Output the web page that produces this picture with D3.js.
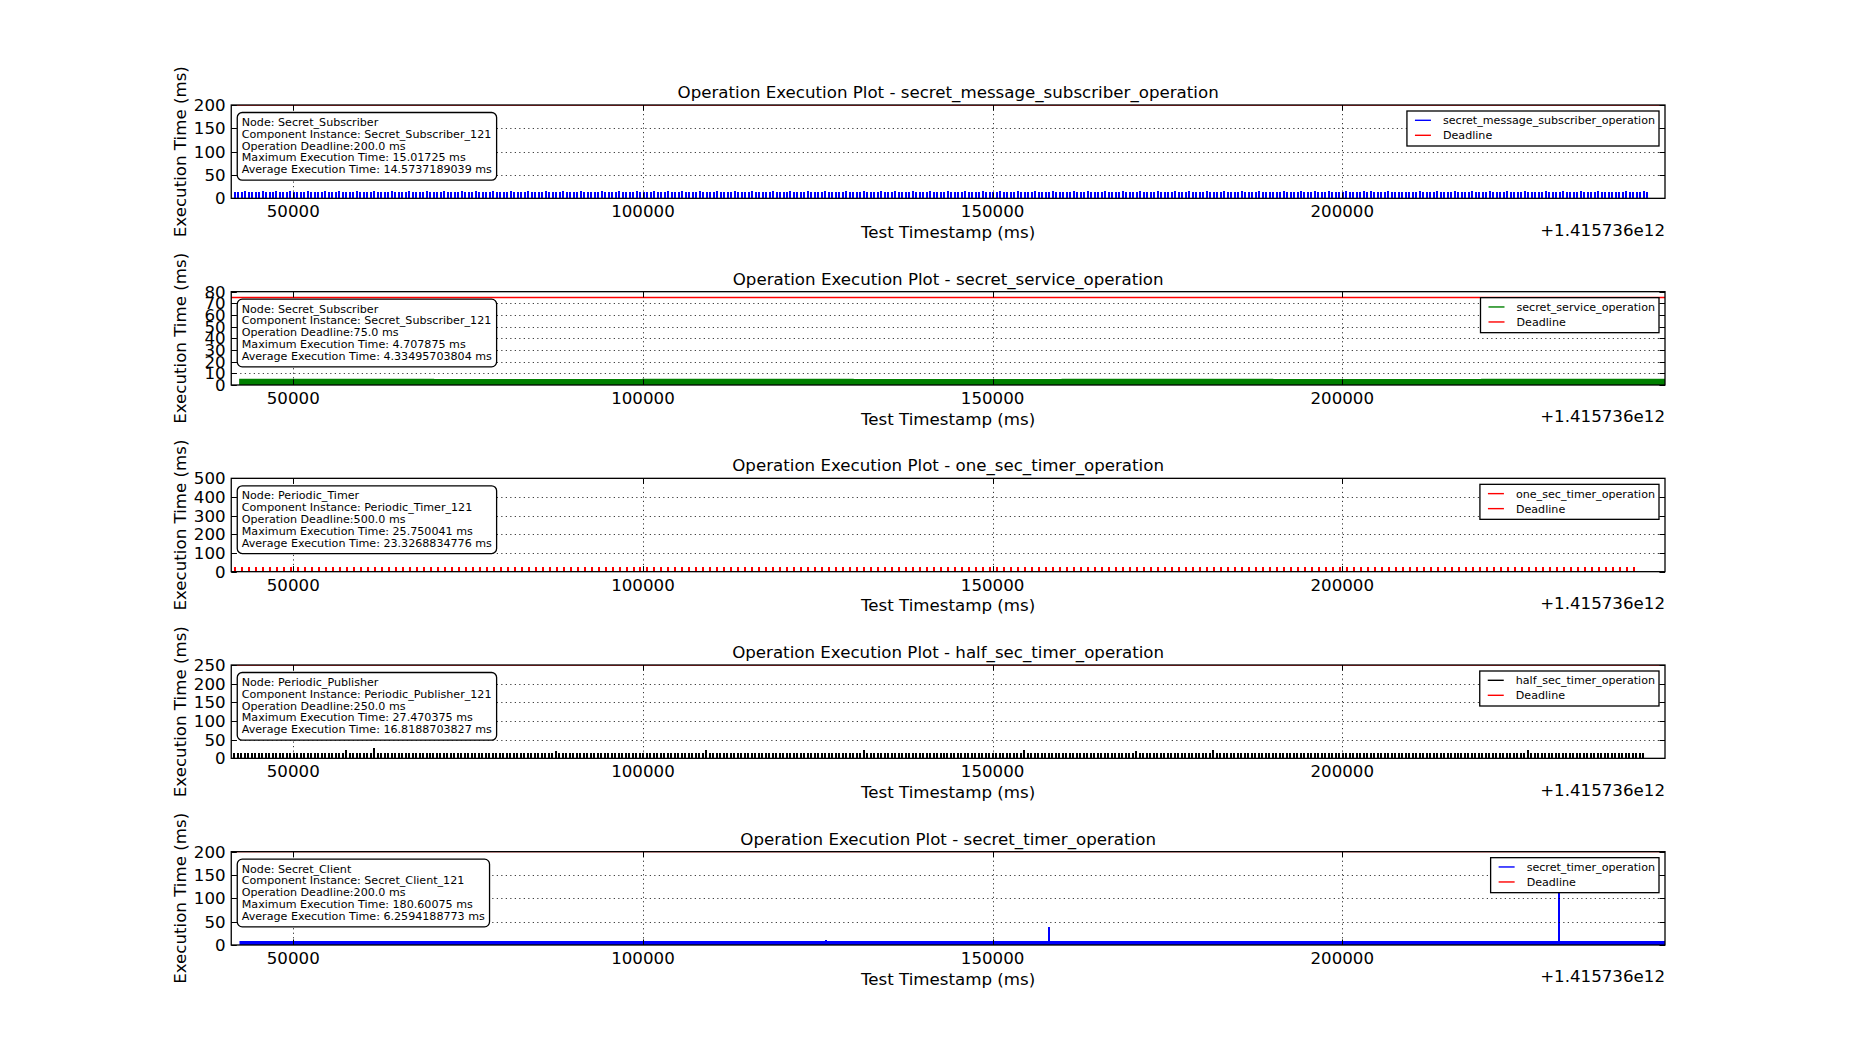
<!DOCTYPE html>
<html><head><meta charset="utf-8">
<script src="https://cdn.jsdelivr.net/npm/d3@7"></script>
<style>html,body{margin:0;padding:0;background:#fff;} svg{display:block;font-family:"DejaVu Sans",sans-serif;}</style>
</head><body><svg id="chart" width="1850" height="1050"></svg>
<script>
// ---------------- DATA ----------------
const xDomain = [41130, 246150];
const xTickValues = [50000, 100000, 150000, 200000];
const xTickLabels = ["50000", "100000", "150000", "200000"];
const xOffsetLabel = "+1.415736e12";
const xAxisLabel = "Test Timestamp (ms)";
const yAxisLabel = "Execution Time (ms)";

const operationNames = ["secret_message_subscriber_operation", "secret_service_operation", "one_sec_timer_operation", "half_sec_timer_operation", "secret_timer_operation"];
const yMaxValues = [200, 80, 500, 250, 200];
const yTickValues = [
  [0, 50, 100, 150, 200],
  [0, 10, 20, 30, 40, 50, 60, 70, 80],
  [0, 100, 200, 300, 400, 500],
  [0, 50, 100, 150, 200, 250],
  [0, 50, 100, 150, 200]
];
const deadlineValues = [200, 75, 500, 250, 200];
const infoLines = [
  ["Node: Secret_Subscriber", "Component Instance: Secret_Subscriber_121", "Operation Deadline:200.0 ms", "Maximum Execution Time: 15.01725 ms", "Average Execution Time: 14.5737189039 ms"],
  ["Node: Secret_Subscriber", "Component Instance: Secret_Subscriber_121", "Operation Deadline:75.0 ms", "Maximum Execution Time: 4.707875 ms", "Average Execution Time: 4.33495703804 ms"],
  ["Node: Periodic_Timer", "Component Instance: Periodic_Timer_121", "Operation Deadline:500.0 ms", "Maximum Execution Time: 25.750041 ms", "Average Execution Time: 23.3268834776 ms"],
  ["Node: Periodic_Publisher", "Component Instance: Periodic_Publisher_121", "Operation Deadline:250.0 ms", "Maximum Execution Time: 27.470375 ms", "Average Execution Time: 16.8188703827 ms"],
  ["Node: Secret_Client", "Component Instance: Secret_Client_121", "Operation Deadline:200.0 ms", "Maximum Execution Time: 180.60075 ms", "Average Execution Time: 6.2594188773 ms"]
];

// secret_message_subscriber_operation: one execution every 500 ms
const subscriberStart = 41600;
const subscriberPeriod = 500;
const subscriberValues = `
14.6 14.5 14.6 14.7 14.5 14.6 14.6 14.5 14.7 14.6 14.5 14.6 14.8 14.5 14.6 14.6 14.7 14.5 14.6 14.6 14.5 14.7 14.6 14.6 14.5 14.6 14.7
14.5 14.6 14.6 14.7 14.6 14.5 14.6 14.6 14.7 14.5 14.6 14.6 14.5 14.7 14.6 14.6 14.5 14.6 14.7 14.6 14.5 14.6 14.6 14.7 14.5 14.6 14.6
14.6 14.7 14.5 14.6 14.6 14.5 14.7 14.6 14.6 14.5 14.6 14.9 14.6 14.5 14.6 14.7 14.6 14.5 14.6 14.6 14.7 14.5 14.6 14.6 14.5 14.7 14.6
14.5 14.6 14.6 14.7 14.5 14.6 14.6 14.5 14.7 14.6 14.6 14.5 14.6 14.7 14.6 14.5 14.6 14.6 14.7 14.5 14.6 14.6 14.5 14.6 14.7 14.6 14.5
14.6 14.6 14.7 14.5 14.6 14.6 14.5 14.7 14.6 14.6 14.5 14.6 14.7 14.6 14.5 14.6 15.0 14.6 14.5 14.6 14.7 14.6 14.6 14.5 14.6 14.7 14.5
14.6 14.5 14.6 14.7 14.6 14.6 14.5 14.6 14.7 14.5 14.6 14.6 14.5 14.7 14.6 14.6 14.5 14.6 14.6 14.7 14.5 14.6 14.6 14.5 14.7 14.6 14.6
14.5 14.6 14.7 14.6 14.5 14.6 14.6 14.7 14.5 14.6 14.6 14.5 14.6 14.7 14.6 14.5 14.6 14.6 14.7 14.6 14.5 14.6 14.6 14.8 14.5 14.6 14.6
14.7 14.5 14.6 14.6 14.5 14.7 14.6 14.6 14.5 14.6 14.7 14.6 14.5 14.6 14.6 14.7 14.5 14.6 14.6 14.5 14.7 14.6 14.6 14.5 14.6 14.7 14.6
14.5 14.6 14.6 14.7 14.5 14.6 14.6 14.5 14.7 14.6 14.6 14.5 14.6 14.7 14.6 14.5 14.6 14.6 14.7 14.5 14.6 14.6 14.5 14.6 14.7 14.6 14.5
14.6 14.7 14.5 14.6 14.6 14.5 14.7 14.6 14.6 14.5 14.6 14.7 14.6 14.5 14.6 14.6 14.7 14.5 14.6 14.6 14.5 14.7 14.6 14.6 14.5 14.6 14.7
14.5 14.6 14.6 14.7 14.6 14.5 14.6 14.6 14.7 14.5 14.6 14.6 14.5 14.7 14.6 14.6 14.5 14.6 14.7 14.6 14.5 14.6 14.6 14.7 14.5 14.6 14.6
14.6 14.5 14.6 14.7 14.5 14.6 14.6 14.5 14.7 14.6 14.5 14.6 14.8 14.5 14.6 14.6 14.7 14.5 14.6 14.6 14.5 14.7 14.6 14.6 14.5 14.6 14.7
14.6 14.7 14.5 14.6 14.6 14.5 14.7 14.6 14.6 14.5 14.6 14.6 14.6 14.5 14.6 14.7 14.6 14.5 14.6 14.6 14.7 14.5 14.6 14.6 14.5 14.7 14.6
14.5 14.6 14.6 14.7 14.5 14.6 14.6 14.5 14.7 14.6 14.6 14.5 14.6 14.7 14.6 14.5 14.6 14.6 14.7 14.5 14.6 14.6 14.5 14.6 14.7 14.6 14.5
14.6 14.6 14.7 14.5 14.6 14.6 14.5 14.7 14.6 14.6 14.5 14.6 14.7 14.6 14.5 14.6 14.6 14.6 14.5 14.6 14.7 14.6 14.6 14.5 14.6 14.7 14.5
`.trim().split(/\s+/).map(Number);

// secret_service_operation: dense executions, drawn as a band (sampled level)
const serviceTimes  = [42400, 70000, 100000, 130000, 160000, 190000, 220000, 246150];
const serviceValues = [4.4, 4.3, 4.4, 4.3, 4.4, 4.3, 4.4, 4.4];

// one_sec_timer_operation: one execution every 1000 ms
const oneSecStart = 41650;
const oneSecPeriod = 1000;
const oneSecValues = `
23.2 23.4 23.1 23.5 23.3 23.2 23.6 23.0 23.4 23.3 23.2 23.5 23.1 23.3 23.4 23.2 23.6 23.3 23.1 23.4
23.3 23.5 23.2 23.1 23.4 23.3 23.6 23.2 23.0 23.4 23.3 23.2 23.5 23.3 23.1 23.4 23.2 23.3 23.6 23.2
23.4 23.1 23.3 23.5 23.2 23.4 23.3 23.0 23.5 23.2 23.3 23.4 23.1 23.6 23.3 23.2 23.4 23.3 23.1 23.5
23.2 23.3 23.6 23.1 23.4 23.3 23.2 23.5 23.3 23.0 23.4 23.2 23.3 23.5 23.1 23.4 23.3 23.2 23.6 23.3
23.1 23.4 23.3 23.2 23.5 23.3 23.4 23.1 23.3 25.8 23.2 23.4 23.3 23.1 23.5 23.2 23.3 23.4 23.2 23.3
23.4 23.2 23.3 23.5 23.1 23.4 23.3 23.2 23.6 23.3 23.1 23.4 23.2 23.3 23.5 23.2 23.4 23.3 23.1 23.4
23.3 23.5 23.2 23.3 23.4 23.1 23.3 23.6 23.2 23.4 23.3 23.2 23.5 23.1 23.3 23.4 23.2 23.3 23.5 23.2
23.2 23.3 23.4 23.1 23.5 23.3 23.2 23.4 23.3 23.6 23.1 23.3 23.4 23.2 23.3 23.5 23.2 23.4 23.1 23.3
23.4 23.2 23.3 23.5 23.2 23.4 23.1 23.3 23.4 23.2 23.6 23.3 23.2 23.4 23.3 23.1 23.5 23.3 23.2 23.4
23.3 23.1 23.4 23.3 23.2 23.5 23.3 23.4 23.2 23.3 23.1 23.4 23.5 23.2 23.3 23.4 23.2 23.3 23.6 23.2
23.3
`.trim().split(/\s+/).map(Number);

// half_sec_timer_operation: one execution every 500 ms
const halfSecStart = 41550;
const halfSecPeriod = 500;
const halfSecValues = `
15.2 14.8 15.4 15.0 14.9 15.3 15.1 14.7 15.5 15.0 15.2 14.9 15.3 15.1 14.8 15.4 15.0 15.2 14.9 15.1
15.3 15.0 14.8 15.4 15.1 15.2 14.9 15.3 15.0 15.1 14.8 15.2 22.0 15.0 15.3 14.9 15.1 15.2 14.8 15.4
27.5 15.1 15.0 15.3 14.9 15.2 15.1 14.8 15.4 15.0 15.2 14.9 15.3 15.1 15.0 14.8 15.2 15.4 15.0 15.1
14.9 15.3 15.2 15.0 14.8 15.4 15.1 15.0 15.2 14.9 15.3 15.1 14.8 15.0 15.4 15.2 15.1 14.9 15.3 15.0
15.2 14.8 15.1 15.4 15.0 15.3 14.9 15.2 15.1 15.0 14.8 15.3 20.5 15.1 15.0 15.2 14.9 15.4 15.1 15.0
15.3 14.8 15.2 15.0 15.1 14.9 15.4 15.2 15.0 15.1 14.8 15.3 15.0 15.2 14.9 15.1 15.4 15.0 15.2 14.8
15.1 15.3 15.0 14.9 15.2 15.1 15.4 14.8 15.0 15.3 15.1 15.2 14.9 15.0 15.4 21.0 15.1 15.2 14.8 15.0
15.3 15.1 14.9 15.2 15.0 15.4 15.1 14.8 15.3 15.0 15.2 15.1 14.9 15.0 15.4 15.2 14.8 15.1 15.3 15.0
15.2 14.9 15.1 15.0 15.4 15.2 14.8 15.3 15.1 15.0 15.2 14.9 15.1 15.4 15.0 15.3 14.8 15.2 15.1 15.0
21.0 15.2 14.9 15.1 15.3 15.0 15.2 14.8 15.4 15.1 15.0 15.3 14.9 15.2 15.1 15.0 15.4 14.8 15.2 15.1
15.0 15.3 14.9 15.2 15.1 15.4 15.0 14.8 15.2 15.3 15.1 15.0 14.9 15.2 15.4 15.1 15.0 14.8 15.3 15.2
15.1 14.9 15.0 15.4 15.2 15.1 21.0 14.8 15.3 15.0 15.2 14.9 15.1 15.4 15.0 15.2 14.8 15.1 15.3 15.0
15.2 15.1 14.9 15.0 15.4 15.2 14.8 15.1 15.3 15.0 15.2 14.9 15.1 15.0 15.4 15.2 14.8 15.3 20.0 15.1
15.0 15.2 14.9 15.4 15.1 15.0 15.3 14.8 15.2 15.1 15.0 15.4 14.9 15.2 15.1 15.3 15.0 14.8 15.2 15.1
21.0 15.0 15.3 14.9 15.2 15.1 15.4 15.0 14.8 15.2 15.3 15.1 15.0 14.9 15.2 15.4 15.1 15.0 14.8 15.3
15.2 15.1 14.9 15.0 15.4 15.2 15.1 14.8 15.3 15.0 15.2 14.9 15.1 15.4 15.0 15.2 14.8 15.1 15.3 15.0
15.1 15.2 14.9 15.0 15.4 15.1 15.2 14.8 15.3 15.0 15.1 15.2 14.9 15.4 15.0 15.1 15.3 14.8 15.2 15.0
15.3 15.1 15.0 14.9 15.2 15.4 15.1 15.0 14.8 15.3 15.2 15.1 14.9 15.0 15.4 15.2 15.1 14.8 15.3 15.0
15.2 14.9 15.1 15.0 15.4 15.2 15.1 14.8 15.3 15.0 21.0 15.2 14.9 15.1 15.4 15.0 15.2 14.8 15.1 15.3
15.0 15.2 14.9 15.1 15.4 15.0 15.2 14.8 15.1 15.3 15.0 15.2 14.9 15.1 15.4 15.0 15.2 14.8 15.1 15.3
15.1 15.0 15.2 14.9
`.trim().split(/\s+/).map(Number);

// secret_timer_operation: dense executions (band) plus isolated spikes
const timerTimes  = [42450, 80000, 120000, 160000, 200000, 246150];
const timerValues = [6.2, 6.3, 6.2, 6.3, 6.2, 6.2];
const timerSpikeTimes  = [126200, 158120, 231000];
const timerSpikeValues = [11, 38, 180.6];

// ---------------- STYLE / LAYOUT ----------------
const seriesColors = ["#0000ff", "#008000", "#ff0000", "#000000", "#0000ff"];
const deadlineColor = "#ff0000";
const W = 1850, H = 1050;
const axLeft = 231.25, axRight = 1665;
const axTop0 = 105, axH = 840 / 9, axStep = 2 * 840 / 9;
const bigFont = 16.67, smallFont = 11.11;

const svg = d3.select("#chart");
svg.append("rect").attr("width", W).attr("height", H).attr("fill", "#fff");
const x = d3.scaleLinear().domain(xDomain).range([axLeft, axRight]);

function eventsFrom(start, period, values) {
  return values.map((v, i) => ({t: start + i * period, v}));
}
function bandFrom(times, values) {
  return times.map((t, i) => ({t, v: values[i]}));
}

const panelSeries = [
  {kind: "events", data: eventsFrom(subscriberStart, subscriberPeriod, subscriberValues)},
  {kind: "band", data: bandFrom(serviceTimes, serviceValues)},
  {kind: "events", data: eventsFrom(oneSecStart, oneSecPeriod, oneSecValues)},
  {kind: "events", data: eventsFrom(halfSecStart, halfSecPeriod, halfSecValues)},
  {kind: "band", data: bandFrom(timerTimes, timerValues), spikes: bandFrom(timerSpikeTimes, timerSpikeValues)}
];

const defs = svg.append("defs");

operationNames.forEach((name, i) => {
  const top = axTop0 + i * axStep;
  const bottom = top + axH;
  const y = d3.scaleLinear().domain([0, yMaxValues[i]]).range([bottom, top]);
  const color = seriesColors[i];
  const g = svg.append("g");

  defs.append("clipPath").attr("id", "clip" + i)
    .append("rect").attr("x", axLeft).attr("y", top).attr("width", axRight - axLeft).attr("height", axH);

  const plot = g.append("g").attr("clip-path", `url(#clip${i})`);
  const s = panelSeries[i];
  if (s.kind === "events") {
    plot.selectAll("line.ev").data(s.data).join("line").attr("class", "ev")
      .attr("x1", d => Math.round(x(d.t))).attr("x2", d => Math.round(x(d.t)))
      .attr("y1", y(0)).attr("y2", d => y(d.v))
      .attr("stroke", color).attr("stroke-width", 2).attr("shape-rendering", "crispEdges");
  } else {
    const area = d3.area().x(d => x(d.t)).y0(y(0)).y1(d => y(d.v)).curve(d3.curveStepAfter);
    plot.append("path").datum(s.data).attr("d", area)
      .attr("fill", color).attr("stroke", color).attr("stroke-width", 2);
    if (s.spikes) {
      plot.selectAll("line.sp").data(s.spikes).join("line").attr("class", "sp")
        .attr("x1", d => Math.round(x(d.t))).attr("x2", d => Math.round(x(d.t)))
        .attr("y1", y(0)).attr("y2", d => y(d.v))
        .attr("stroke", color).attr("stroke-width", 2).attr("shape-rendering", "crispEdges");
    }
  }
  // deadline
  plot.append("line").attr("x1", axLeft).attr("x2", axRight)
    .attr("y1", y(deadlineValues[i])).attr("y2", y(deadlineValues[i]))
    .attr("stroke", deadlineColor).attr("stroke-width", 1.4);

  // grid
  const grid = g.append("g").attr("stroke", "#000").attr("stroke-width", 0.8).attr("stroke-dasharray", "1.2,3.3");
  xTickValues.forEach(v => {
    grid.append("line").attr("x1", Math.round(x(v)) + 0.5).attr("x2", Math.round(x(v)) + 0.5)
      .attr("y1", top).attr("y2", bottom);
  });
  yTickValues[i].forEach(v => {
    if (v === 0 || v === yMaxValues[i]) return;
    grid.append("line").attr("x1", axLeft).attr("x2", axRight)
      .attr("y1", Math.round(y(v)) + 0.5).attr("y2", Math.round(y(v)) + 0.5);
  });

  // frame
  g.append("rect").attr("x", axLeft).attr("y", top).attr("width", axRight - axLeft).attr("height", axH)
    .attr("fill", "none").attr("stroke", "#000").attr("stroke-width", 1.3);

  // ticks (inside, all four sides)
  const tk = g.append("g").attr("stroke", "#000").attr("stroke-width", 1);
  const tl = 5.56;
  xTickValues.forEach(v => {
    const px = Math.round(x(v)) + 0.5;
    tk.append("line").attr("x1", px).attr("x2", px).attr("y1", bottom).attr("y2", bottom - tl);
    tk.append("line").attr("x1", px).attr("x2", px).attr("y1", top).attr("y2", top + tl);
  });
  yTickValues[i].forEach(v => {
    const py = Math.round(y(v)) + 0.5;
    tk.append("line").attr("x1", axLeft).attr("x2", axLeft + tl).attr("y1", py).attr("y2", py);
    tk.append("line").attr("x1", axRight).attr("x2", axRight - tl).attr("y1", py).attr("y2", py);
  });

  // tick labels
  const txt = g.append("g").attr("fill", "#000").attr("font-size", bigFont);
  xTickValues.forEach((v, k) => {
    txt.append("text").attr("x", x(v)).attr("y", bottom + 18.9).attr("text-anchor", "middle").text(xTickLabels[k]);
  });
  yTickValues[i].forEach(v => {
    txt.append("text").attr("x", axLeft - 5.6).attr("y", y(v) + 6).attr("text-anchor", "end").text(String(v));
  });

  // titles and labels
  txt.append("text").attr("x", (axLeft + axRight) / 2).attr("y", top - 7).attr("text-anchor", "middle")
    .text("Operation Execution Plot - " + name);
  txt.append("text").attr("x", (axLeft + axRight) / 2).attr("y", bottom + 39.5).attr("text-anchor", "middle")
    .text(xAxisLabel);
  txt.append("text").attr("x", axRight).attr("y", bottom + 37.4).attr("text-anchor", "end").text(xOffsetLabel);
  txt.append("text").attr("transform", `translate(186,${(top + bottom) / 2}) rotate(-90)`)
    .attr("text-anchor", "middle").text(yAxisLabel);

  // info box
  const info = g.append("g");
  const infoText = info.append("g").attr("font-size", smallFont).attr("fill", "#000");
  infoLines[i].forEach((line, k) => {
    infoText.append("text").attr("x", axLeft + 10.5).attr("y", top + 21 + k * 11.8).text(line);
  });
  const bb = infoText.node().getBBox();
  info.insert("rect", ":first-child")
    .attr("x", bb.x - 4.5).attr("y", bb.y - 3.5).attr("width", bb.width + 9).attr("height", bb.height + 7.5)
    .attr("rx", 5).attr("ry", 5).attr("fill", "#fff").attr("stroke", "#000").attr("stroke-width", 1.3);

  // legend
  const leg = g.append("g");
  const legItems = [{label: name, color: color}, {label: "Deadline", color: deadlineColor}];
  const legText = leg.append("g").attr("font-size", smallFont).attr("fill", "#000");
  let maxW = 0;
  const texts = legItems.map(it => {
    const t = legText.append("text").text(it.label);
    maxW = Math.max(maxW, t.node().getComputedTextLength());
    return t;
  });
  const boxW = 8 + 16 + 12 + maxW + 4;
  const boxX = axRight - 6 - boxW, boxY = top + 6;
  leg.insert("rect", ":first-child").attr("x", boxX).attr("y", boxY).attr("width", boxW).attr("height", 35)
    .attr("fill", "#fff").attr("stroke", "#000").attr("stroke-width", 1.3);
  legItems.forEach((it, k) => {
    const cy = boxY + 9.3 + k * 15;
    leg.append("line").attr("x1", boxX + 8).attr("x2", boxX + 24).attr("y1", cy).attr("y2", cy)
      .attr("stroke", it.color).attr("stroke-width", 1.4);
    texts[k].attr("x", boxX + 36).attr("y", cy + 4);
  });
});
</script>
</body></html>
